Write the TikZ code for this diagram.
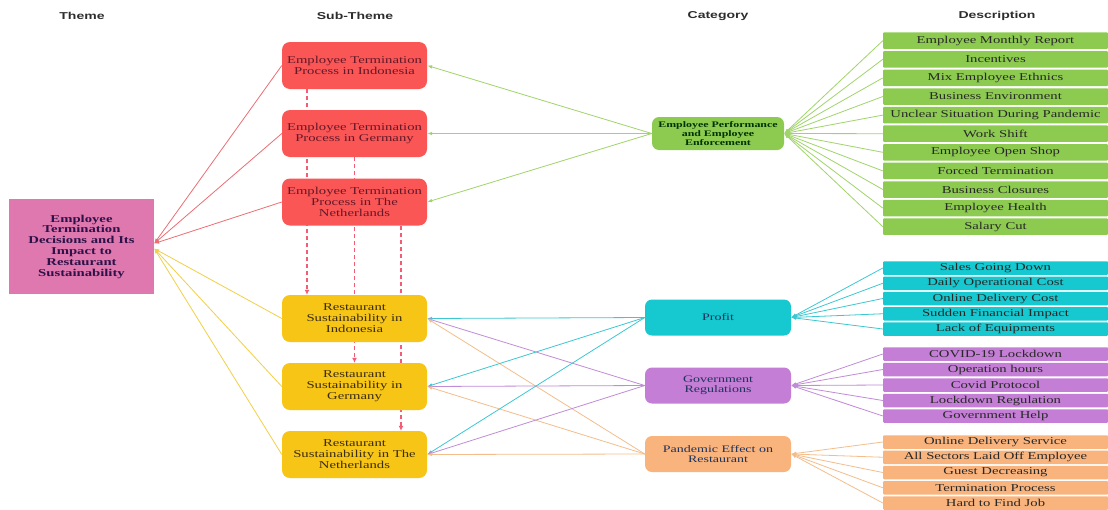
\documentclass[tikz,border=0pt]{standalone}
\usepackage{fontspec}
\setmainfont{Liberation Serif}[FakeStretch=1.4]
\setsansfont{Liberation Sans}[FakeStretch=1.4]
\usepackage{tikz}
\usetikzlibrary{arrows.meta,positioning,calc,backgrounds}

\definecolor{themepink}{RGB}{223,120,174}
\definecolor{subred}{RGB}{250,86,86}
\definecolor{subyellow}{RGB}{246,197,22}
\definecolor{catgreen}{RGB}{140,203,80}
\definecolor{catcyan}{RGB}{22,200,208}
\definecolor{catpurple}{RGB}{196,126,214}
\definecolor{catorange}{RGB}{249,180,126}
\definecolor{linered}{RGB}{236,110,115}
\definecolor{lineyellow}{RGB}{242,208,72}
\definecolor{linegreen}{RGB}{160,212,106}
\definecolor{linecyan}{RGB}{60,200,210}
\definecolor{linepurple}{RGB}{192,140,216}
\definecolor{lineorange}{RGB}{244,190,140}
\definecolor{dashred}{RGB}{244,92,118}
\definecolor{headgray}{RGB}{45,45,45}
\definecolor{themetext}{RGB}{44,18,72}
\definecolor{redtext}{RGB}{100,24,40}
\definecolor{yellowtext}{RGB}{60,44,16}
\definecolor{desctext}{RGB}{40,40,40}
\definecolor{cattext}{RGB}{30,50,90}

\begin{document}
\begin{tikzpicture}[x=1pt,y=-1pt,
  header/.style={font=\sffamily\bfseries\fontsize{10}{12}\selectfont, text=headgray},
  subbox/.style={rounded corners=8pt, minimum width=145pt, minimum height=47pt, align=center, inner sep=0pt, font=\fontsize{10.5}{11}\selectfont},
  catbox/.style={rounded corners=7pt, minimum width=146pt, minimum height=36pt, align=center, inner sep=0pt, text=cattext, font=\fontsize{10}{10}\selectfont},
  descbox/.style={minimum width=225pt, inner sep=0pt, rounded corners=1pt, text=desctext, font=\fontsize{10.5}{11}\selectfont},
  link/.style={line width=0.8pt, -{Latex[length=5pt,width=3.6pt]}},
  dashlink/.style={draw=dashred, line width=1.3pt, dash pattern=on 4pt off 3pt, -{Latex[length=5pt,width=5pt]}}]
\path[use as bounding box] (0,0) rectangle (1108,509);

% column headers
\node at (82,16) [header] (hTheme) {Theme};
\node at (355,16) [header] (hSub) {Sub-Theme};
\node at (718,16) [header] (hCat) {Category};
\node at (997,16) [header] (hDesc) {Description};

% theme
\node at (81.5,246.5) [fill=themepink, minimum width=145pt, minimum height=95pt, inner sep=0pt, align=center, text=themetext, font=\bfseries\fontsize{10.5}{10.8}\selectfont] (theme) {Employee\\Termination\\Decisions and Its\\Impact to\\Restaurant\\Sustainability};

% sub-themes
\node at (354.5,65.5) [subbox, fill=subred, text=redtext] (r1) {Employee Termination\\Process in Indonesia};
\node at (354.5,133.5) [subbox, fill=subred, text=redtext] (r2) {Employee Termination\\Process in Germany};
\node at (354.5,202) [subbox, fill=subred, text=redtext] (r3) {Employee Termination\\Process in The\\Netherlands};
\node at (354.5,318.5) [subbox, fill=subyellow, text=yellowtext] (y1) {Restaurant\\Sustainability in\\Indonesia};
\node at (354.5,386.5) [subbox, fill=subyellow, text=yellowtext] (y2) {Restaurant\\Sustainability in\\Germany};
\node at (354.5,454.5) [subbox, fill=subyellow, text=yellowtext] (y3) {Restaurant\\Sustainability in The\\Netherlands};

% categories
\node at (718,133.5) [catbox, fill=catgreen, minimum width=132pt, minimum height=33pt, text=black!80!green, font=\bfseries\fontsize{8.5}{9.3}\selectfont] (perf) {Employee Performance\\and Employee\\Enforcement};
\node at (718,317.5) [catbox, fill=catcyan] (profit) {Profit};
\node at (718,385.5) [catbox, fill=catpurple] (gov) {Government\\Regulations};
\node at (718,454) [catbox, fill=catorange] (pand) {Pandemic Effect on\\Restaurant};

% descriptions
\foreach \txt [count=\i] in {Employee Monthly Report, Incentives, Mix Employee Ethnics, Business Environment, Unclear Situation During Pandemic, Work Shift, Employee Open Shop, Forced Termination, Business Closures, Employee Health, Salary Cut}
{
  \node at (995.5,{22.1+18.6*\i}) [descbox, fill=catgreen, minimum height=16.5pt] (g\i) {\txt};
  \draw[link, linegreen] (g\i.west) -- (perf.east);
}
\foreach \txt [count=\i] in {Sales Going Down, Daily Operational Cost, Online Delivery Cost, Sudden Financial Impact, Lack of Equipments}
{
  \node at (995.5,{252.75+15.25*\i}) [descbox, fill=catcyan, minimum height=13.5pt] (c\i) {\txt};
  \draw[link, linecyan] (c\i.west) -- (profit.east);
}
\foreach \txt [count=\i] in {COVID-19 Lockdown, Operation hours, Covid Protocol, Lockdown Regulation, Government Help}
{
  \node at (995.5,{338.5+15.5*\i}) [descbox, fill=catpurple, minimum height=13.5pt] (p\i) {\txt};
  \draw[link, linepurple] (p\i.west) -- (gov.east);
}
\foreach \txt [count=\i] in {Online Delivery Service, All Sectors Laid Off Employee, Guest Decreasing, Termination Process, Hard to Find Job}
{
  \node at (995.5,{426.75+15.25*\i}) [descbox, fill=catorange, minimum height=13.5pt] (o\i) {\txt};
  \draw[link, lineorange] (o\i.west) -- (pand.east);
}

% sub-themes to theme
\foreach \n in {r1,r2,r3}
  \draw[link, linered] (\n.west) -- ([yshift=3pt]theme.east);
\foreach \n in {y1,y2,y3}
  \draw[link, lineyellow] (\n.west) -- ([yshift=-2pt]theme.east);

% categories to sub-themes
\foreach \n in {r1,r2,r3}
  \draw[link, linegreen] (perf.west) -- (\n.east);
\foreach \n in {y1,y2,y3}
{
  \draw[link, linecyan] (profit.west) -- (\n.east);
  \draw[link, linepurple] (gov.west) -- (\n.east);
  \draw[link, lineorange] (pand.west) -- (\n.east);
}

% termination process leads to sustainability
\begin{scope}[on background layer]
\fill[white] (0,0) rectangle (1108,509);
\draw[dashlink] ([xshift=-47.5pt]r1.south) -- ([xshift=-47.5pt]y1.north);
\draw[dashlink] (r2.south) -- (y2.north);
\draw[dashlink] ([xshift=46.5pt]r3.south) -- ([xshift=46.5pt]y3.north);
\end{scope}
\end{tikzpicture}
\end{document}
